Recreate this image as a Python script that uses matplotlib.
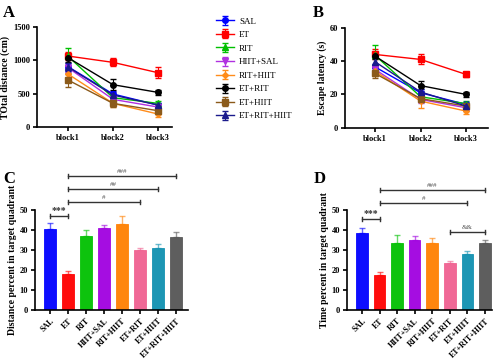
import numpy as np
import matplotlib
matplotlib.use("Agg")
import matplotlib.pyplot as plt

plt.rcParams['font.family'] = ['Liberation Serif', 'DejaVu Serif']
plt.rcParams['font.weight'] = 'bold'

groups = ['SAL', 'ET', 'RIT', 'HIIT+SAL', 'RIT+HIIT', 'ET+RIT', 'ET+HIIT', 'ET+RIT+HIIT']
blocks = ['block1', 'block2', 'block3']

# panel A: total distance (cm)
dist_mean = [[905, 495, 330], [1065, 970, 815], [1060, 440, 355], [890, 415, 300],
             [795, 355, 195], [1040, 635, 520], [705, 355, 245], [900, 480, 330]]
dist_err = [[60, 50, 30], [60, 60, 80], [130, 40, 30], [60, 40, 30],
            [80, 50, 40], [60, 80, 40], [100, 60, 30], [60, 50, 30]]

# panel B: escape latency (s)
lat_mean = [[36.5, 21, 14], [44, 41, 32], [43.5, 18.6, 14.5], [35, 17, 12],
            [34, 16, 10], [43, 25.3, 20], [32.6, 17.5, 13], [39.6, 21.5, 13]]
lat_err = [[2, 2, 1.5], [3, 3, 1.5], [6, 2, 1.5], [2, 2, 1.5],
           [3, 4, 2], [2, 3, 1.5], [3, 2, 1.5], [2, 2, 1]]

# panel C / D: percent in target quadrant
dist_pct = [40.5, 18, 37, 41, 43, 30, 31, 36.5]
dist_pct_err = [3, 1.5, 3, 1.5, 4, 1, 2, 2.5]
time_pct = [38.5, 17.5, 33.5, 35, 33.5, 23.5, 28, 33.5]
time_pct_err = [2.5, 1.5, 4, 2, 2.5, 1, 1.5, 1.5]

line_colors = ['#0000ff', '#ff0000', '#00c000', '#b030e0', '#ff8c1a', '#000000', '#8b5a1a', '#1a1a8c']
markers = ['o', 's', '^', 'v', 'D', 'o', 's', '^']
bar_colors = ['#0000ff', '#ff0000', '#00c000', '#a000e0', '#ff8000', '#f06090', '#1090b0', '#555555']

fig = plt.figure(figsize=(5, 3.63), dpi=100)

def style(ax):
    for s in ['top', 'right']:
        ax.spines[s].set_visible(False)
    for s in ['left', 'bottom']:
        ax.spines[s].set_linewidth(1.2)
    ax.tick_params(width=1.2, length=3, labelsize=6, pad=2)

def line_panel(rect, means, errs, ylim, yticks, ylabel, xlim):
    ax = fig.add_axes(rect)
    x = np.arange(3)
    for i, g in enumerate(groups):
        ax.errorbar(x, means[i], yerr=errs[i], color=line_colors[i], marker=markers[i],
                    ms=4 if markers[i] != 'D' else 3, lw=1, elinewidth=0.8, capsize=2,
                    ecolor=line_colors[i], label=g, clip_on=False, zorder=3)
    ax.set_xlim(*xlim)
    ax.set_ylim(*ylim)
    ax.set_yticks(yticks)
    ax.set_xticks(x)
    ax.set_xticklabels(blocks)
    ax.set_ylabel(ylabel, fontsize=7, fontweight='bold', labelpad=2)
    style(ax)
    return ax

def bar_panel(rect, vals, errs, ylabel, xlim, sigs):
    ax = fig.add_axes(rect)
    x = np.arange(len(groups))
    for i in range(len(groups)):
        ax.bar(x[i], vals[i], width=0.66, color=bar_colors[i], edgecolor=bar_colors[i],
               lw=0.6, alpha=0.95)
        ax.errorbar(x[i], vals[i], yerr=[[0], [errs[i]]], color=bar_colors[i], alpha=0.6,
                    elinewidth=1, capsize=2.5, capthick=1)
    ax.set_xlim(*xlim)
    ax.set_ylim(0, 50)
    ax.set_yticks(range(0, 51, 10))
    ax.set_xticks(x)
    style(ax)
    ax.set_xticklabels(groups, rotation=45, ha='right', rotation_mode='anchor', fontsize=5.8)
    ax.set_ylabel(ylabel, fontsize=7, fontweight='bold', labelpad=2)
    for a, b, y, txt in sigs:
        ax.plot([a, b], [y, y], color='#333333', lw=1, clip_on=False)
        ax.plot([a, a], [y - 1, y + 1], color='#333333', lw=1, clip_on=False)
        ax.plot([b, b], [y - 1, y + 1], color='#333333', lw=1, clip_on=False)
        if txt == '***':
            ax.text((a + b) / 2, y + 0.3, txt, ha='center', va='bottom', fontsize=7,
                    color='#333333', fontweight='bold')
        else:
            ax.text((a + b) / 2, y + 0.8, txt, ha='center', va='bottom', fontsize=5,
                    color='#555555', fontweight='normal')
    return ax

axA = line_panel([0.074, 0.650, 0.27, 0.2755], dist_mean, dist_err, (0, 1500),
                 [0, 500, 1000, 1500], 'TOtal distance (cm)', (-0.69, 2.31))
axB = line_panel([0.69, 0.648, 0.286, 0.2755], lat_mean, lat_err, (0, 60),
                 [0, 20, 40, 60], 'Escape latency (s)', (-0.66, 2.48))

handles, labels = axA.get_legend_handles_labels()
fig.legend(handles, labels, loc='upper left', bbox_to_anchor=(0.415, 0.975), frameon=False,
           prop={'size': 6.5, 'weight': 'normal'}, handlelength=2.0, labelspacing=0.58,
           handletextpad=0.6)

bar_panel([0.07, 0.146, 0.306, 0.2755], dist_pct, dist_pct_err,
          'Distance percent in target quadrant', (-0.83, 7.67),
          [(0, 1, 47.2, '***'), (1, 5, 54, '#'), (1, 6, 60.5, '##'), (1, 7, 67, '###')])
bar_panel([0.694, 0.146, 0.29, 0.2755], time_pct, time_pct_err,
          'Time percent in target quadrant', (-0.85, 7.4),
          [(0, 1, 45.5, '***'), (1, 6, 53.5, '#'), (1, 7, 60, '###'), (5, 7, 39.2, '&&')])

for txt, xf, yf in [('A', 0.006, 0.985), ('B', 0.626, 0.985), ('C', 0.006, 0.53), ('D', 0.628, 0.53)]:
    fig.text(xf, yf, txt, fontsize=12, fontweight='bold', va='top')

fig.savefig('out.png', dpi=100)
